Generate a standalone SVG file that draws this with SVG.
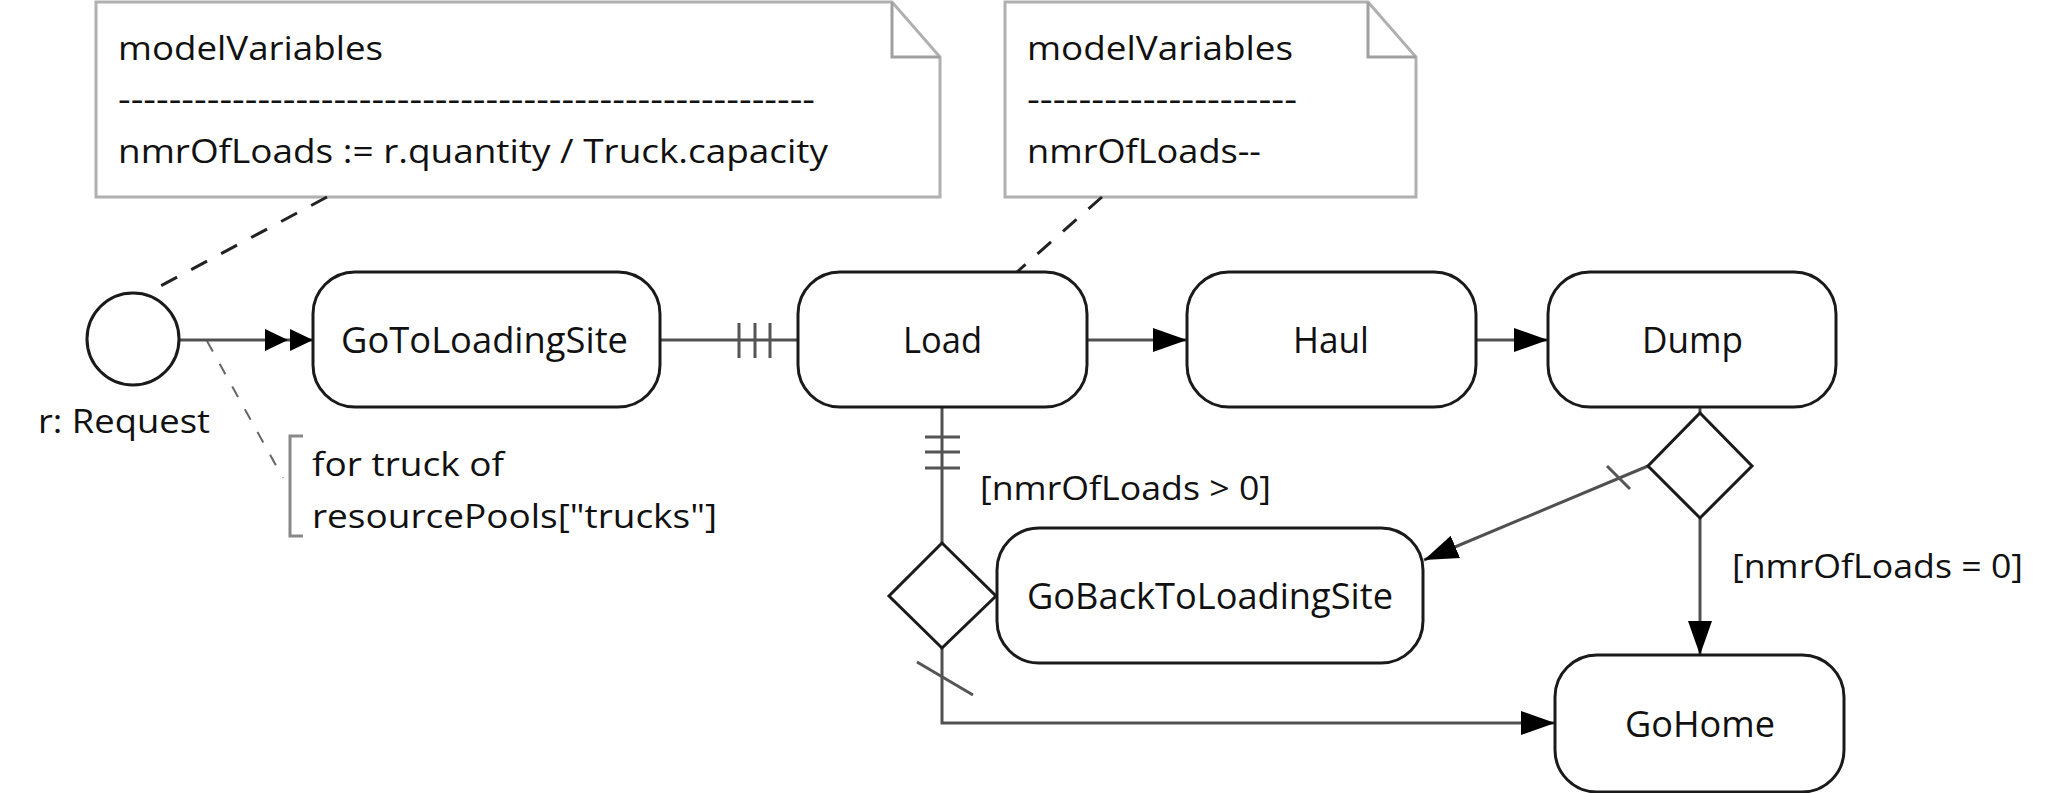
<svg xmlns="http://www.w3.org/2000/svg" width="2048" height="793" viewBox="0 0 2048 793">
<style>
text{font-family:"Open Sans","DejaVu Sans",sans-serif;fill:#111}
.nt{font-size:33px}
.lb{font-size:33px}
.nd{font-size:36px;text-anchor:start}
.node{fill:#fff;stroke:#1a1a1a;stroke-width:3}
.note{fill:#fff;stroke:#b0b0b0;stroke-width:3;stroke-linejoin:miter}
.fold{fill:none;stroke:#a0a0a0;stroke-width:3}
.foldd{fill:none;stroke:#c8c8c8;stroke-width:2}
.dec{fill:#fff;stroke:#1a1a1a;stroke-width:3}
.edge{fill:none;stroke:#505050;stroke-width:3}
.tick{fill:none;stroke:#555;stroke-width:3}
.ndash{fill:none;stroke:#222;stroke-width:3;stroke-dasharray:18 16}
.adash{fill:none;stroke:#666;stroke-width:2;stroke-dasharray:12 14}
.brk{fill:none;stroke:#888;stroke-width:3}
</style>
<defs>
<marker id="arr" markerUnits="userSpaceOnUse" viewBox="0 0 34 24" refX="34" refY="12" markerWidth="34" markerHeight="24" orient="auto">
<path d="M0,0 L34,12 L0,24 Z" fill="#000"/>
</marker>
<marker id="arr2" markerUnits="userSpaceOnUse" viewBox="0 0 48 22" refX="48" refY="11" markerWidth="48" markerHeight="22" orient="auto">
<path d="M0,0 L23,11 L0,22 Z M25,0 L48,11 L25,22 Z" fill="#000"/>
</marker>
</defs>

<g id="note1">
<path class="note" d="M96,2 H892 L940,57 V197 H96 Z"/>
<path class="fold" d="M892,2 V57 H940"/>
<text class="nt" x="118" y="60" textLength="265" lengthAdjust="spacingAndGlyphs">modelVariables</text>
<text class="nt" x="118" y="111" textLength="697" lengthAdjust="spacingAndGlyphs">-------------------------------------------------------</text>
<text class="nt" x="118" y="163" textLength="710" lengthAdjust="spacingAndGlyphs">nmrOfLoads := r.quantity / Truck.capacity</text>
</g>

<g id="note2">
<path class="note" d="M1005,2 H1368 L1416,57 V197 H1005 Z"/>
<path class="fold" d="M1368,2 V57 H1416"/>
<text class="nt" x="1027" y="60" textLength="266" lengthAdjust="spacingAndGlyphs">modelVariables</text>
<text class="nt" x="1027" y="111" textLength="270" lengthAdjust="spacingAndGlyphs">---------------------</text>
<text class="nt" x="1027" y="163" textLength="234" lengthAdjust="spacingAndGlyphs">nmrOfLoads--</text>
</g>

<g id="connectors">
<path class="ndash" d="M327,197 L153,290"/>
<path class="ndash" d="M1102,197 L1017,272"/>
<path class="adash" d="M207,341 L283,478"/>
<path class="edge" d="M179,340 H313" marker-end="url(#arr2)"/>
<path class="edge" d="M660,340 H798"/>
<path class="tick" d="M739,323 V358 M755,323 V358 M770,323 V358"/>
<path class="edge" d="M1087,340 H1187" marker-end="url(#arr)"/>
<path class="edge" d="M1476,340 H1548" marker-end="url(#arr)"/>
<path class="edge" d="M942,407 V543"/>
<path class="tick" d="M925,437 H960 M925,452 H960 M925,468 H960"/>
<path class="edge" d="M942,648 V723 H1555" marker-end="url(#arr)"/>
<path class="tick" d="M917,662 L973,695"/>
<path class="edge" d="M1700,407 V413"/>
<path class="edge" d="M1648,466 L1424,560" marker-end="url(#arr)"/>
<path class="tick" d="M1607,466 L1630,489"/>
<path class="edge" d="M1700,518 V655" marker-end="url(#arr)"/>
</g>

<g id="start">
<circle cx="133" cy="339" r="46" fill="#fff" stroke="#1a1a1a" stroke-width="3"/>
<text class="lb" x="38" y="433" textLength="172" lengthAdjust="spacingAndGlyphs">r: Request</text>
</g>

<g id="forEach">
<path class="brk" d="M303,436 H290 V536 H303"/>
<text class="lb" x="312" y="476" textLength="192" lengthAdjust="spacingAndGlyphs">for truck of</text>
<text class="lb" x="312" y="528" textLength="405" lengthAdjust="spacingAndGlyphs">resourcePools["trucks"]</text>
</g>

<g id="GoToLoadingSite">
<rect class="node" x="313" y="272" width="347" height="135" rx="42" ry="42"/>
<text class="nd" x="341" y="353" textLength="287" lengthAdjust="spacingAndGlyphs">GoToLoadingSite</text>
</g>

<g id="Load">
<rect class="node" x="798" y="272" width="289" height="135" rx="42" ry="42"/>
<text class="nd" x="903" y="353" textLength="79" lengthAdjust="spacingAndGlyphs">Load</text>
</g>

<g id="Haul">
<rect class="node" x="1187" y="272" width="289" height="135" rx="42" ry="42"/>
<text class="nd" x="1293" y="353" textLength="76" lengthAdjust="spacingAndGlyphs">Haul</text>
</g>

<g id="Dump">
<rect class="node" x="1548" y="272" width="288" height="135" rx="42" ry="42"/>
<text class="nd" x="1642" y="353" textLength="101" lengthAdjust="spacingAndGlyphs">Dump</text>
</g>

<g id="LoadDecision">
<path class="dec" d="M942,543 L996,596 L942,648 L889,596 Z"/>
</g>

<g id="GoBackToLoadingSite">
<rect class="node" x="997" y="528" width="426" height="135" rx="42" ry="42"/>
<text class="nd" x="1027" y="609" textLength="366" lengthAdjust="spacingAndGlyphs">GoBackToLoadingSite</text>
</g>

<g id="DumpDecision">
<path class="dec" d="M1700,413 L1752,466 L1700,518 L1648,466 Z"/>
</g>

<g id="GoHome">
<rect class="node" x="1555" y="655" width="289" height="137" rx="42" ry="42"/>
<text class="nd" x="1625" y="737" textLength="150" lengthAdjust="spacingAndGlyphs">GoHome</text>
</g>

<g id="guards">
<text class="lb" x="980" y="500" textLength="291" lengthAdjust="spacingAndGlyphs">[nmrOfLoads &gt; 0]</text>
<text class="lb" x="1732" y="578" textLength="291" lengthAdjust="spacingAndGlyphs">[nmrOfLoads = 0]</text>
</g>
</svg>
